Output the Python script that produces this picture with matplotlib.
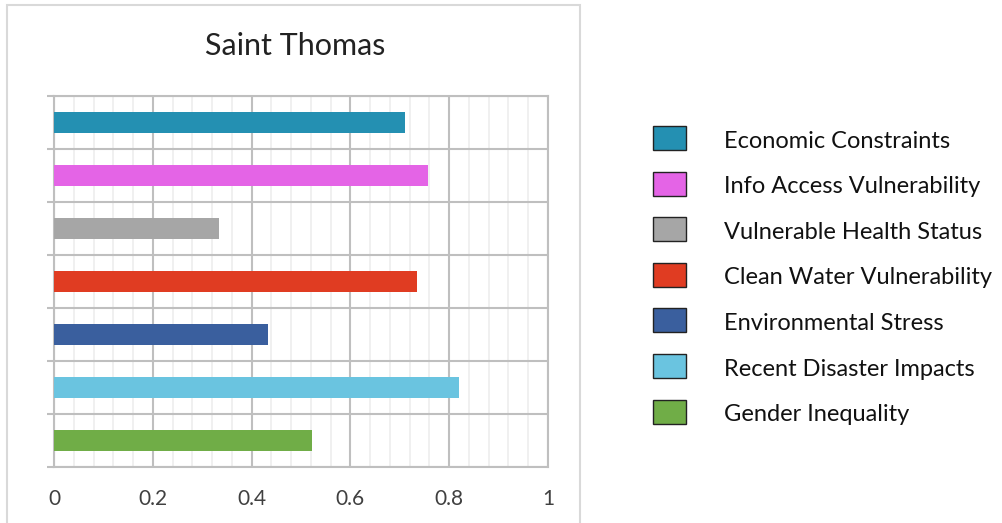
import matplotlib
matplotlib.use("Agg")
import matplotlib.pyplot as plt
from matplotlib.patches import Rectangle
from matplotlib.ticker import MultipleLocator

plt.rcParams['font.family'] = ['Lato', 'DejaVu Sans']

categories = ["Economic Constraints", "Info Access Vulnerability", "Vulnerable Health Status",
              "Clean Water Vulnerability", "Environmental Stress", "Recent Disaster Impacts",
              "Gender Inequality"]
values = [0.71, 0.757, 0.335, 0.735, 0.433, 0.819, 0.523]
colors = ["#2490B2", "#E464E6", "#A6A6A6", "#E03C22", "#3A5F9E", "#6AC4E0", "#70AD47"]
xticks = [0, 0.2, 0.4, 0.6, 0.8, 1]
xticklabels = ["0", "0.2", "0.4", "0.6", "0.8", "1"]
title = "Saint Thomas"

W, H = 1003, 523
fig = plt.figure(figsize=(W / 100, H / 100), dpi=100)

# outer chart frame
fig.patches.append(Rectangle((7 / W, -0.1), (580 - 7) / W, 1 - 5 / H + 0.1,
                             transform=fig.transFigure, fill=False,
                             edgecolor="#D9D9D9", linewidth=1.5))

ax = fig.add_axes([54 / W, 1 - 467 / H, (548 - 54) / W, (467 - 96) / H])
n = len(categories)
ypos = list(range(n))[::-1]
ax.barh(ypos, values, height=0.38, color=colors, zorder=3)
ax.set_xlim(0, 1)
ax.set_ylim(-0.5, n - 0.5)

ax.set_xticks(xticks)
ax.set_xticklabels(xticklabels, fontsize=15, color="#404040")
ax.xaxis.set_minor_locator(MultipleLocator(0.04))
ax.set_yticks([i - 0.5 for i in range(n + 1)])
ax.set_yticklabels([])
ax.tick_params(axis='y', length=5, width=1.5, color="#BFBFBF")
ax.tick_params(axis='x', which='both', length=0, pad=16)
ax.grid(True, axis='x', which='major', color="#BFBFBF", linewidth=1.5, zorder=1)
ax.grid(True, axis='x', which='minor', color="#EDEDED", linewidth=1.2, zorder=0)
ax.grid(True, axis='y', which='major', color="#BFBFBF", linewidth=1.5, zorder=1)
for s in ax.spines.values():
    s.set_color("#BFBFBF")
    s.set_linewidth(1.5)

fig.text(295 / W, 1 - 46 / H, title, ha='center', va='center', fontsize=22, color="#222222")

# legend (manual layout)
row0, step = 138, 45.6
for i, (lab, c) in enumerate(zip(categories, colors)):
    yc = row0 + i * step
    fig.patches.append(Rectangle((653 / W, 1 - (yc + 12) / H), 33 / W, 24 / H,
                                 transform=fig.transFigure, facecolor=c,
                                 edgecolor="#222222", linewidth=1))
    fig.text(724 / W, 1 - (yc + 3) / H, lab, ha='left', va='center', fontsize=17, color="#111111")

fig.savefig("out.png", dpi=100)
